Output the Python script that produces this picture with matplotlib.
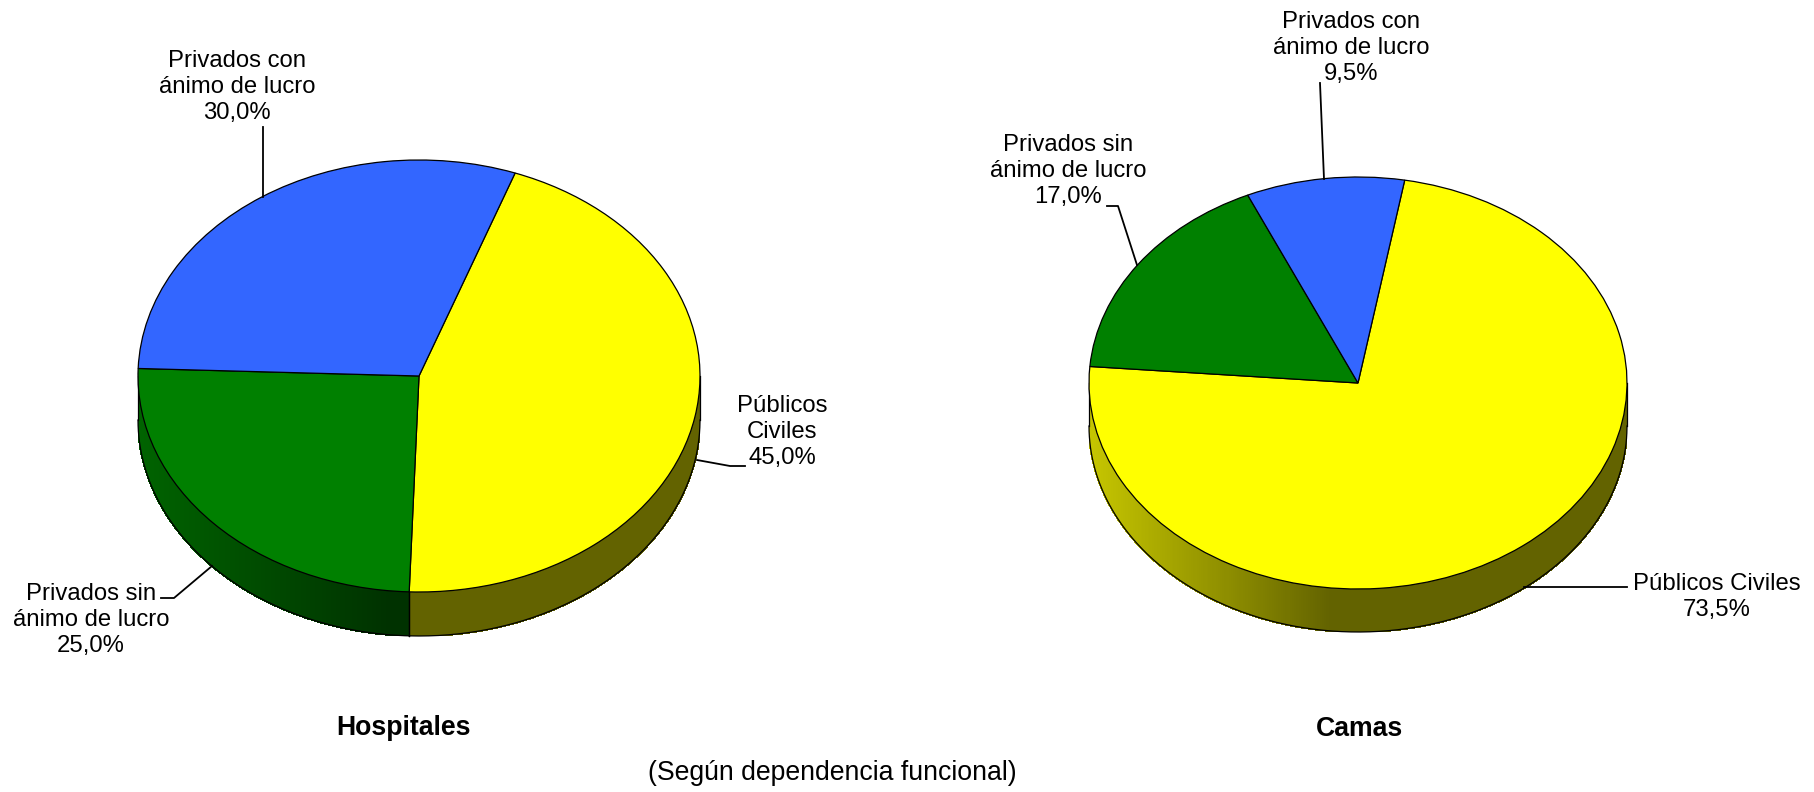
import matplotlib as mpl
mpl.use('Agg')
import matplotlib.pyplot as plt
from matplotlib.collections import PolyCollection
import numpy as np

mpl.rcParams['font.family'] = ['Liberation Sans', 'DejaVu Sans']

W, H = 1815, 792

colors = ['#FFFF00', '#008000', '#3366FF']

hosp_values = [45.0, 25.0, 30.0]
camas_values = [73.5, 17.0, 9.5]

hosp_labels = ['Públicos\nCiviles\n45,0%', 'Privados sin\nánimo de lucro\n25,0%', 'Privados con\nánimo de lucro\n30,0%']
camas_labels = ['Públicos Civiles\n73,5%', 'Privados sin\nánimo de lucro\n17,0%', 'Privados con\nánimo de lucro\n9,5%']


def shade(x):
    # side wall gets darker going right, then stays flat
    return np.interp(x, [-1, -0.1], [0.78, 0.39])


def draw_pie(values, start, cx, cy, rx, ry, depth):
    ax = fig.add_axes([(cx - rx) / W, 1 - (cy + ry + depth) / H, 2 * rx / W, (2 * ry + depth) / H])
    d = depth / ry

    # side wall, only the front half shows
    a = start
    for v, c in zip(values, colors):
        a2 = a - v * 3.6
        t0 = max(a2, -180)
        t1 = min(a, 0)
        if t1 > t0:
            ts = np.arange(t0, t1 + 0.5, 0.5)
            ts[-1] = t1
            rad = np.radians(ts)
            xs, ys = np.cos(rad), np.sin(rad)
            polys = []
            cols = []
            rgb = np.array(mpl.colors.to_rgb(c))
            for i in range(len(ts) - 1):
                polys.append([(xs[i], ys[i]), (xs[i + 1], ys[i + 1]), (xs[i + 1], ys[i + 1] - d), (xs[i], ys[i] - d)])
                cols.append(rgb * shade((xs[i] + xs[i + 1]) / 2))
            ax.add_collection(PolyCollection(polys, facecolors=cols, edgecolors=cols, linewidths=0.8,
                                             antialiaseds=False, zorder=1))
            ax.plot(xs, ys - d, color='black', lw=0.9, zorder=2)
            ax.plot([xs[0], xs[0]], [ys[0], ys[0] - d], color='black', lw=0.9, zorder=2)
            ax.plot([xs[-1], xs[-1]], [ys[-1], ys[-1] - d], color='black', lw=0.9, zorder=2)
        a = a2

    wedges, _ = ax.pie(values, colors=colors, startangle=start, counterclock=False,
                       radius=1, wedgeprops={'edgecolor': 'black', 'linewidth': 0.9, 'zorder': 3})
    ax.set_aspect('auto')
    ax.set_xlim(-1, 1)
    ax.set_ylim(-1 - d, 1)
    for w in wedges:
        w.set_clip_on(False)
    for art in ax.lines:
        art.set_clip_on(False)
    ax.axis('off')
    return ax


fig = plt.figure(figsize=(W / 100, H / 100), dpi=100, facecolor='white')

draw_pie(hosp_values, 70, 419, 376, 281, 216, 44)
draw_pie(camas_values, 80, 1358, 383, 269, 206, 43)

# overlay in pixels for the labels and leader lines
over = fig.add_axes([0, 0, 1, 1], facecolor='none')
over.set_xlim(0, W)
over.set_ylim(H, 0)
over.axis('off')

fs = 17.2
label_pos = [(782, 432), (91, 620), (237, 87), (1717, 597), (1068, 171), (1351, 48)]
for s, (x, y) in zip(hosp_labels + camas_labels, label_pos):
    over.text(x, y, s, ha='center', va='center', fontsize=fs, linespacing=1.24, color='black')

leaders = [
    [(697, 460), (730, 466), (745, 466)],
    [(212, 566), (174, 598), (161, 598)],
    [(263, 197), (263, 127)],
    [(1524, 587), (1627, 587)],
    [(1137, 265), (1118, 206), (1107, 206)],
    [(1324, 179), (1320, 83)],
]
for pts in leaders:
    over.plot([p[0] for p in pts], [p[1] for p in pts], color='black', lw=1.3)

over.text(404, 728, 'Hospitales', ha='center', va='center', fontsize=19.2, fontweight='bold')
over.text(1360, 729, 'Camas', ha='center', va='center', fontsize=19.2, fontweight='bold')
over.text(832, 773, '(Según dependencia funcional)', ha='center', va='center', fontsize=19.2)

fig.savefig('out.png', dpi=100)
